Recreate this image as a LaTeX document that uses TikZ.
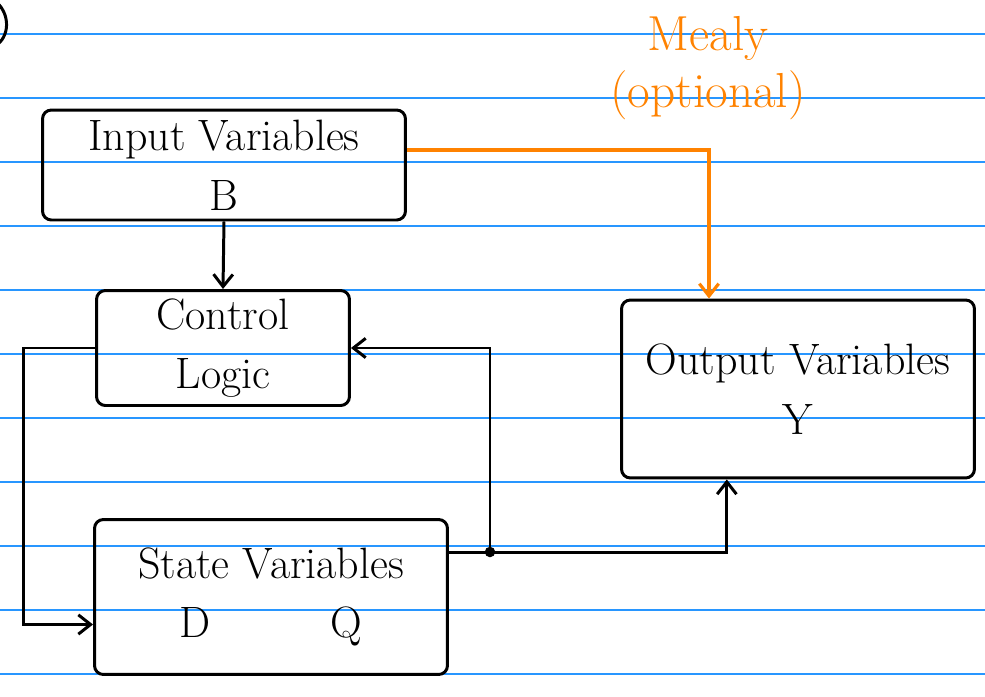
\documentclass[tikz,border=0pt]{standalone}
\usetikzlibrary{arrows.meta,calc}
\definecolor{ruleblue}{RGB}{40,150,255}
\definecolor{mealyorange}{RGB}{255,130,0}
\tikzset{
  ruled/.style={draw=ruleblue,line width=0.9pt},
  box/.style={draw,line width=1.7pt,rounded corners=5pt,align=center,inner sep=0pt,
    font=\fontsize{25}{34}\selectfont},
  wire/.style={line width=1.7pt},
  mealy/.style={draw=mealyorange,line width=1.8pt},
}
\begin{document}
\begin{tikzpicture}[x=0.02cm,y=-0.02cm,>={Straight Barb[length=7pt,width=11pt]}]
\useasboundingbox (0,0) rectangle (985,697);
\clip (0,0) rectangle (985,697);
% ruled paper
\foreach \k in {0,...,10}
  \draw[ruled] (0,34+64*\k) -- (985,34+64*\k);
\draw[wire] (-6,0) .. controls (10,12) and (10,34) .. (-2,44);
% blocks
\node[box,minimum width=7.26cm,minimum height=2.2cm] (inp) at (224,165) {Input Variables\\B};
\node[box,minimum width=5.06cm,minimum height=2.3cm] (ctl) at (223,348) {Control\\Logic};
\node[box,minimum width=7.06cm,minimum height=3.1cm] (st) at (271,597) {State Variables\\D\hspace{2.4cm}Q};
\node[box,minimum width=7.06cm,minimum height=3.56cm] (out) at (798,389) {Output Variables\\Y};
\node[text=mealyorange,align=center,font=\fontsize{28}{32}\selectfont] (mly) at (708,68) {Mealy\\(optional)};
\coordinate (tap) at (490,552);
% connections
\draw[wire,->] (inp.south) -- (ctl.north);
\draw[mealy,->] ([yshift=0.3cm]inp.east) -| ($(out.north west)!0.25!(out.north east)$);
\draw[wire,->] (ctl.west) -- ++(-72,0) |- ([yshift=-0.55cm]st.west);
\draw[wire] (st.east |- tap) -- (tap);
\draw[wire,->] (tap) |- (ctl.east);
\draw[wire,->] (tap) -| ($(out.south west)!0.3!(out.south east)$);
\fill (tap) circle (3pt);
\end{tikzpicture}
\end{document}
